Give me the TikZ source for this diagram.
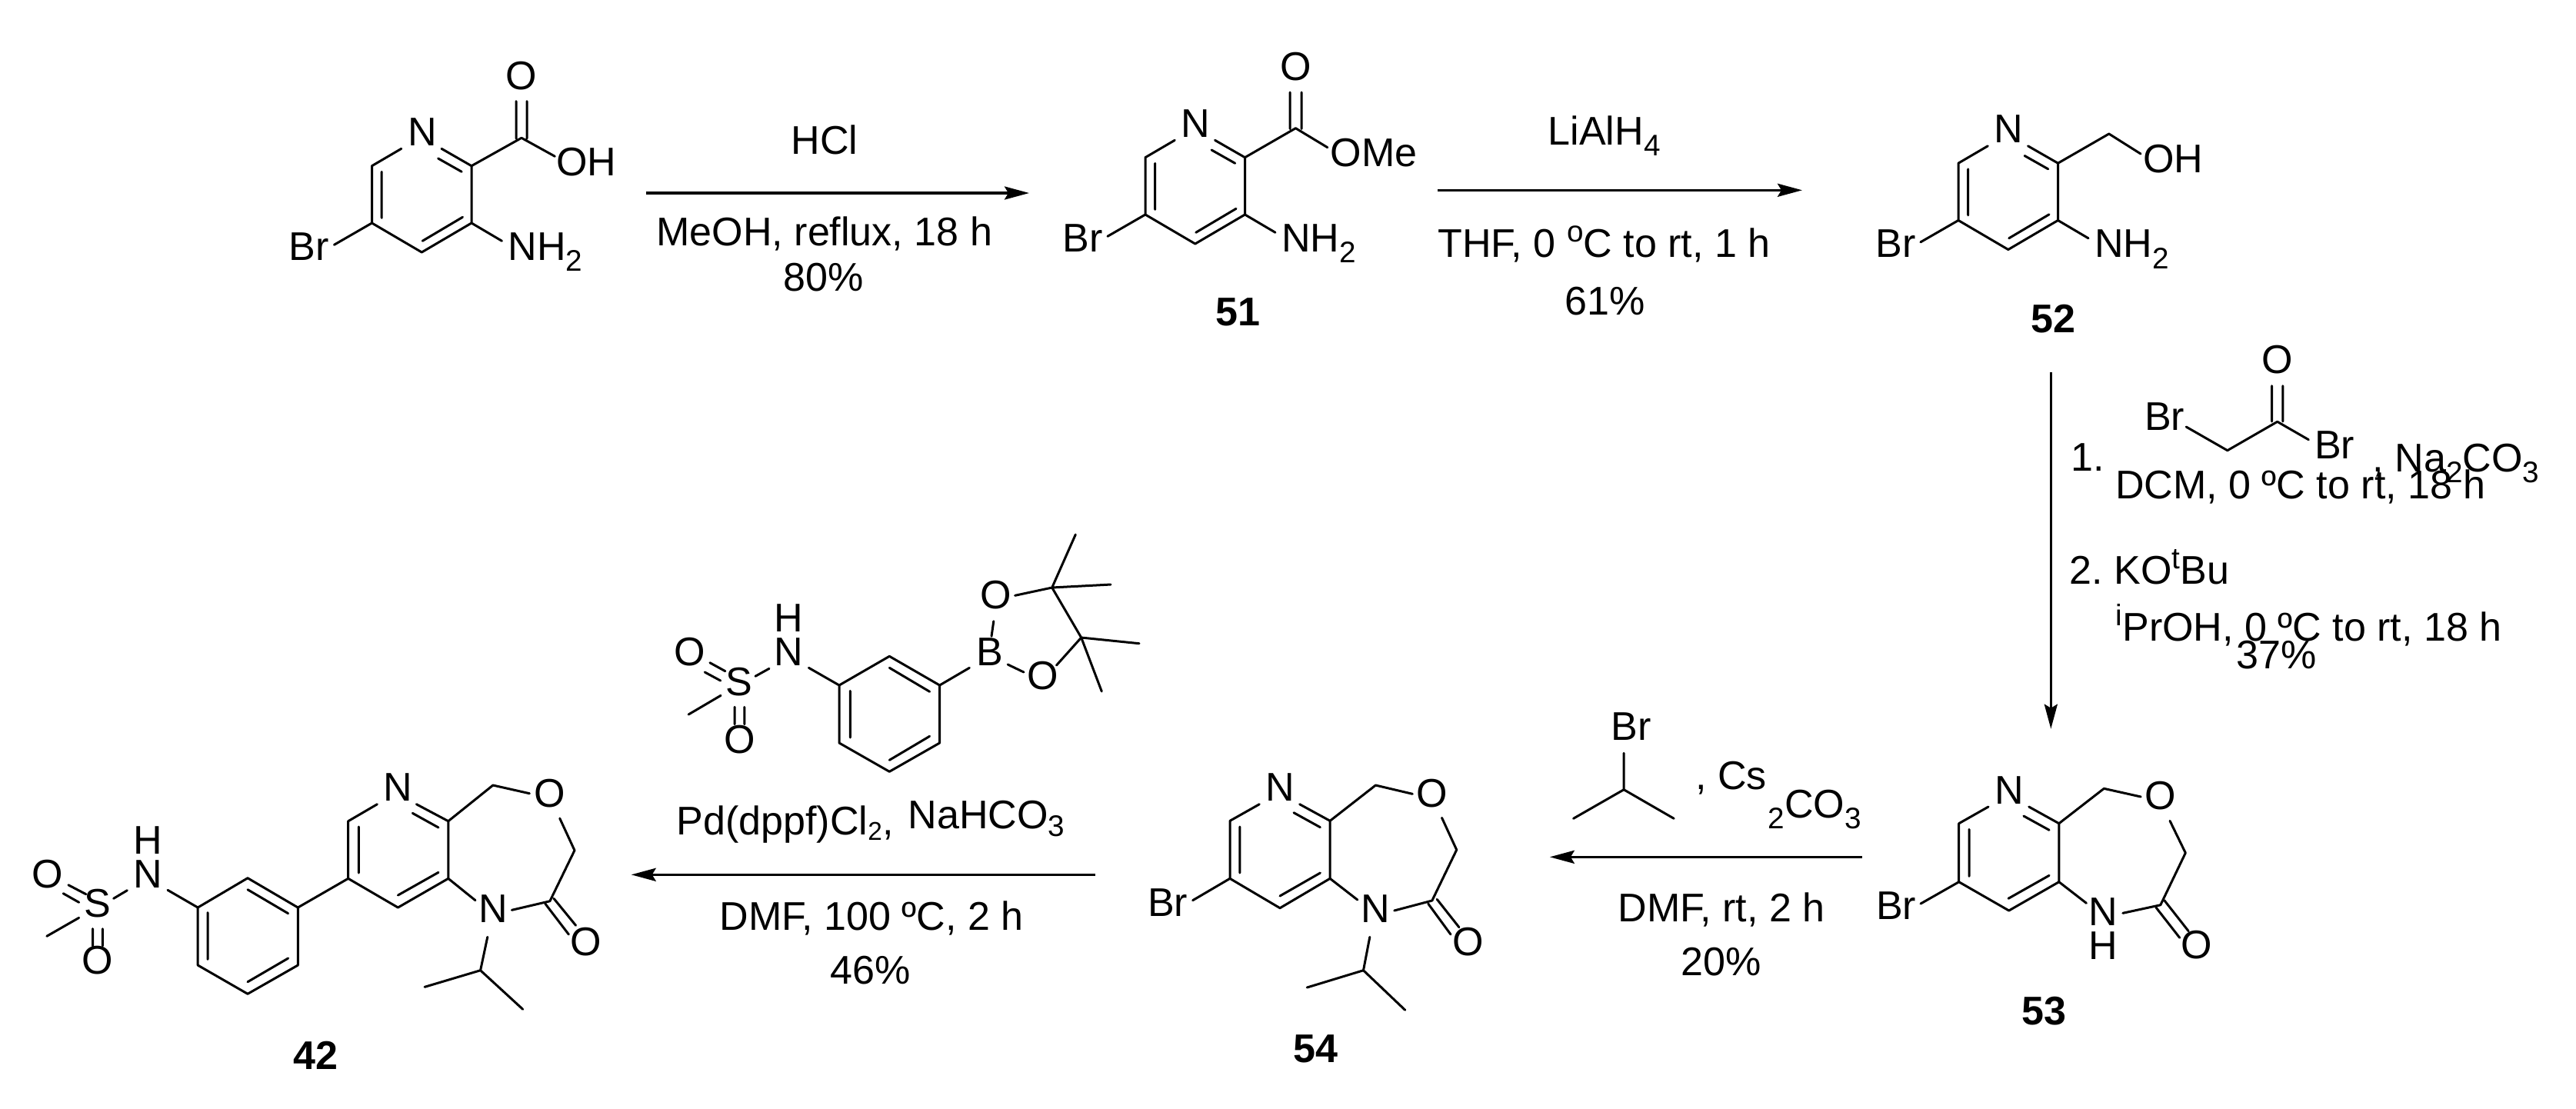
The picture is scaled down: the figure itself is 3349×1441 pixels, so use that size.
\documentclass[tikz,border=0pt]{standalone}
\usepackage{fontspec}
\setmainfont{Liberation Sans}
\usetikzlibrary{arrows.meta}
\newcommand{\dn}[1]{\raisebox{-0.145cm}{\fontsize{11}{11}\selectfont #1}}
\newcommand{\upp}[1]{\raisebox{0.2cm}{\fontsize{11}{11}\selectfont #1}}
\newcommand{\cc}[3]{\coordinate (#1) at (#2,#3);}
\newcommand{\pyr}{%
  \cc{c6}{483.5}{215.7}\cc{c5}{483.5}{290}\cc{c4}{548.3}{328}\cc{c3}{613}{290}\cc{c2}{613}{215.7}
  \cc{na}{521.8}{193.3}\cc{nb}{574}{193.3}
  \cc{i1}{496.2}{223.3}\cc{i2}{496.2}{283.3}\cc{i3}{601.5}{282.3}\cc{i4}{549.2}{313.3}\cc{i5}{600.2}{223.3}\cc{i6}{569.6}{206}
  \cc{bra}{434.4}{318.3}\cc{nha}{652.5}{313.3}
  \draw[bond] (na)--(c6)--(c5)--(c4)--(c3)--(c2)--(nb) (i1)--(i2) (i3)--(i4) (i5)--(i6) (c5)--(bra) (c3)--(nha);
  \node[atom] (pN) at (549,189.3) {N};
  \node[atom] (pBr) at (402,338) {Br};
  \node[atom,anchor=base west] (pNH) at (660,338) {NH\dn{2}};
}
\tikzset{
  x=0.01cm,y=-0.01cm,
  bond/.style={line width=0.03cm,line cap=round,line join=round},
  rxn/.style={line width=0.034cm,-{Stealth[length=0.32cm,width=0.17cm,inset=0.05cm]}},
  atom/.style={inner sep=0pt,anchor=base,font=\fontsize{14.8}{18}\selectfont},
  cmpd/.style={atom,font=\fontsize{14.8}{18}\selectfont\bfseries},
}
\begin{document}
\begin{tikzpicture}
\useasboundingbox (0,0) rectangle (3349,1441);
% starting acid
\begin{scope}
  \pyr
  \cc{cc}{678}{179.3}\cc{oa}{721.4}{203.3}\cc{d1}{671}{180}\cc{d2}{671}{131.7}\cc{d3}{685}{180}\cc{d4}{685}{131.7}
  \draw[bond] (c2)--(cc)--(oa) (d1)--(d2) (d3)--(d4);
  \node[atom] (aO) at (678,116) {O};
  \node[atom] (aOH) at (762.5,228) {OH};
\end{scope}
% reaction 1
\cc{r1a}{840.3}{251}\cc{r1b}{1338}{251}
\draw[rxn] (r1a)--(r1b);
\node[atom] (r1t) at (1072,200.7) {HCl};
\node[atom] (r1m) at (1071.8,319.3) {MeOH, reflux, 18 h};
\node[atom] (r1y) at (1071,378) {80\%};
% 51
\begin{scope}[shift={(1005.5,-11)}]
  \pyr
\end{scope}
\cc{bcc}{1684.4}{166.7}\cc{boa}{1725.8}{191.7}\cc{bd1}{1677}{167.5}\cc{bd2}{1677}{120}\cc{bd3}{1692}{167.5}\cc{bd4}{1692}{120}
\draw[bond] (c2)--(bcc)--(boa) (bd1)--(bd2) (bd3)--(bd4);
\node[atom] (bO) at (1684.4,104) {O};
\node[atom] (bOMe) at (1786,216) {OMe};
\node[cmpd] (l51) at (1609.5,423) {51};
% reaction 2
\cc{r2a}{1869.3}{247.3}\cc{r2b}{2343}{247.3}
\draw[rxn] (r2a)--(r2b);
\node[atom,anchor=base west] (r2t) at (2012,188) {LiAlH\dn{4}};
\node[atom] (r2m) at (2085.5,334.3) {THF, 0 \upp{o}C to rt, 1 h};
\node[atom] (r2y) at (2087,409) {61\%};
% 52
\begin{scope}[shift={(2062.5,-3.5)}]
  \pyr
\end{scope}
\cc{ccc}{2741.8}{174}\cc{coa}{2783}{200}
\draw[bond] (c2)--(ccc)--(coa);
\node[atom] (cOH) at (2825,224.3) {OH};
\node[cmpd] (l52) at (2669.4,432.7) {52};
% reaction 3
\cc{r3a}{2666.3}{484.3}\cc{r3b}{2666.3}{947.7}
\draw[rxn] (r3a)--(r3b);
\cc{e1}{2842.2}{555}\cc{e2}{2895.8}{585.7}\cc{e3}{2960.7}{548.3}\cc{e4}{3001.3}{571.7}
\cc{e5}{2953.6}{548}\cc{e6}{2953.6}{501.7}\cc{e7}{2967.9}{548}\cc{e8}{2967.9}{501.7}
\draw[bond] (e1)--(e2)--(e3)--(e4) (e5)--(e6) (e7)--(e8);
\node[atom] (eBr1) at (2814,559.3) {Br};
\node[atom] (eBr2) at (3035,596.7) {Br};
\node[atom] (eO) at (2960.3,485.3) {O};
\node[atom,anchor=base west] (r3a1) at (2692,612.7) {1.};
\node[atom,anchor=base west] (r3a2) at (3084,613.3) {, Na\dn{2}CO\dn{3}};
\node[atom] (r3c1) at (2991,648.3) {DCM, 0 ºC to rt, 18 h};
\node[atom,anchor=base west] (r3a3) at (2690,759.5) {2.};
\node[atom,anchor=base west] (r3a4) at (2748,759.5) {KO\upp{t}Bu};
\node[atom,anchor=base west] (r3c2) at (2750,833.3) {\upp{i}PrOH, 0 ºC to rt, 18 h};
\node[atom] (r3y) at (2960,869.3) {37\%};
% 53
\cc{f6}{2546.7}{1070.7}\cc{f5}{2546.7}{1146.7}\cc{f4}{2611.7}{1184}\cc{f3}{2676.8}{1146.7}\cc{f2}{2676.8}{1070.7}
\cc{fna}{2585}{1049}\cc{fnb}{2637.7}{1049}\cc{fi1}{2630.9}{1061}\cc{fi2}{2664.1}{1079.3}
\cc{fi3}{2560}{1078.3}\cc{fi4}{2560}{1139.3}\cc{fi5}{2664.1}{1138.3}\cc{fi6}{2611}{1168.3}
\cc{fch}{2735.3}{1025.3}\cc{foa}{2783.2}{1036}\cc{fob}{2821}{1067.3}\cc{fcj}{2841.3}{1109}\cc{fco}{2808.8}{1176.7}
\cc{fnc}{2712.4}{1174.3}\cc{fnd}{2759.8}{1187.3}
\cc{fd1}{2813.8}{1170.7}\cc{fd2}{2845.2}{1210.7}\cc{fd3}{2803}{1180}\cc{fd4}{2833.7}{1219.3}\cc{fbr}{2497}{1175}
\draw[bond] (fna)--(f6)--(f5)--(f4)--(f3)--(f2)--(fnb) (fi1)--(fi2) (fi3)--(fi4) (fi5)--(fi6)
  (f2)--(fch)--(foa) (fob)--(fcj)--(fco)--(fnd) (f3)--(fnc) (fd1)--(fd2) (fd3)--(fd4) (f5)--(fbr);
\node[atom] (fN) at (2612,1045) {N};
\node[atom] (fO) at (2808.4,1052.7) {O};
\node[atom] (fNH) at (2734.6,1203) {N};
\node[atom] (fH) at (2734.6,1247.3) {H};
\node[atom] (fO2) at (2855.5,1246.7) {O};
\node[atom] (fBr) at (2465,1195) {Br};
\node[cmpd] (l53) at (2657,1332.6) {53};
% reaction 4
\cc{r4a}{2421}{1114.3}\cc{r4b}{2014.8}{1114.3}
\draw[rxn] (r4a)--(r4b);
\cc{g1}{2111.1}{979.3}\cc{g2}{2111.1}{1026.7}\cc{g3}{2045.5}{1064.3}\cc{g4}{2176.2}{1064.3}
\draw[bond] (g1)--(g2)--(g3) (g2)--(g4);
\node[atom] (gBr) at (2120.7,962.7) {Br};
\node[atom,anchor=base west] (r4r) at (2203.5,1026) {, Cs};
\node[atom,anchor=base west] (r4s) at (2298,1063.3) {\dn{2}CO\dn{3}};
\node[atom] (r4c) at (2238,1198) {DMF, rt, 2 h};
\node[atom] (r4y) at (2238,1268) {20\%};
% 54
\cc{h6}{1599}{1067.3}\cc{h5}{1599}{1142.3}\cc{h4}{1664}{1180.7}\cc{h3}{1729.1}{1142.3}\cc{h2}{1729.1}{1067.3}
\cc{hna}{1637.3}{1045.7}\cc{hnb}{1689.6}{1045.7}\cc{hi1}{1682}{1056.7}\cc{hi2}{1716.4}{1075.7}
\cc{hi3}{1611.8}{1075}\cc{hi4}{1611.8}{1135}\cc{hi5}{1716.4}{1135}\cc{hi6}{1664}{1165}
\cc{hch}{1788.4}{1021}\cc{hoa}{1836.3}{1032.3}\cc{hob}{1874.5}{1063.3}\cc{hcj}{1893.7}{1105}\cc{hco}{1861.8}{1171}
\cc{hnc}{1764.8}{1170}\cc{hnd}{1812.7}{1184}
\cc{hd1}{1868.2}{1169.3}\cc{hd2}{1896.9}{1205.7}\cc{hd3}{1856.7}{1175}\cc{hd4}{1886}{1215}
\cc{hp1}{1780.8}{1218.3}\cc{hp2}{1772.5}{1261.7}\cc{hp3}{1699.2}{1284}\cc{hp4}{1826.7}{1313.3}\cc{hbr}{1550.6}{1170.7}
\draw[bond] (hna)--(h6)--(h5)--(h4)--(h3)--(h2)--(hnb) (hi1)--(hi2) (hi3)--(hi4) (hi5)--(hi6)
  (h2)--(hch)--(hoa) (hob)--(hcj)--(hco)--(hnd) (h3)--(hnc) (hd1)--(hd2) (hd3)--(hd4) (h5)--(hbr)
  (hp1)--(hp2)--(hp3) (hp2)--(hp4);
\node[atom] (hN) at (1664,1041.7) {N};
\node[atom] (hO) at (1861.8,1049) {O};
\node[atom] (hNR) at (1788.4,1199.3) {N};
\node[atom] (hO2) at (1908.3,1242) {O};
\node[atom] (hBr) at (1518,1191) {Br};
\node[cmpd] (l54) at (1710,1381) {54};
% reaction 5
\cc{r5a}{1423.7}{1137.3}\cc{r5b}{820.7}{1137.3}
\draw[rxn] (r5a)--(r5b);
% boronate reagent
\cc{k1}{1091}{891}\cc{k2}{1156.3}{853.3}\cc{k3}{1221.6}{891}\cc{k4}{1221.6}{966}\cc{k5}{1156.3}{1003.3}\cc{k6}{1091}{966}
\cc{ki1}{1156.3}{868.3}\cc{ki2}{1208.6}{899.3}\cc{ki3}{1105.3}{898.3}\cc{ki4}{1105.3}{959}\cc{ki5}{1156.3}{988.3}\cc{ki6}{1208.6}{957.3}
\cc{kn}{1051.4}{868.3}\cc{kb}{1260.4}{868.3}\cc{kba}{1289}{827.3}\cc{kbb}{1291.8}{807.7}
\cc{koa}{1319.6}{774.3}\cc{kc1}{1367.7}{764}\cc{kbc}{1310.2}{864}\cc{kbd}{1331}{874}
\cc{kob}{1373.5}{865}\cc{kc2}{1405.7}{829}\cc{km1}{1398.3}{695}\cc{km2}{1444}{760}\cc{km3}{1481}{836.7}\cc{km4}{1432.3}{899}
\cc{ks1}{922.9}{861.7}\cc{ks2}{942.9}{872.7}\cc{ks3}{916.3}{874}\cc{ks4}{936.7}{885}
\cc{ks5}{937.1}{904.3}\cc{ks6}{895.1}{929}\cc{ks7}{955.1}{919.3}\cc{ks8}{955.1}{941.7}\cc{ks9}{967.8}{919.3}\cc{ks10}{967.8}{941.7}
\cc{ks11}{982}{879.3}\cc{ks12}{1000}{869.3}
\draw[bond] (k1)--(k2)--(k3)--(k4)--(k5)--(k6)--(k1) (ki1)--(ki2) (ki3)--(ki4) (ki5)--(ki6)
  (kn)--(k1) (k3)--(kb) (kba)--(kbb) (koa)--(kc1)--(kc2)--(kob) (kbc)--(kbd)
  (kc1)--(km1) (kc1)--(km2) (kc2)--(km3) (kc2)--(km4)
  (ks1)--(ks2) (ks3)--(ks4) (ks5)--(ks6) (ks7)--(ks8) (ks9)--(ks10) (ks11)--(ks12);
\node[atom] (kO1) at (896.3,865) {O};
\node[atom] (kN) at (1025.7,865) {N};
\node[atom] (kH) at (1025.7,821.7) {H};
\node[atom] (kS) at (961.2,904) {S};
\node[atom] (kO2) at (961.6,979) {O};
\node[atom] (kB) at (1287,865) {B};
\node[atom] (kO3) at (1294.3,791.7) {O};
\node[atom] (kO4) at (1355.5,896) {O};
\node[atom,anchor=base west] (r5r) at (879,1085) {Pd(dppf)Cl\raisebox{-0.07cm}{\fontsize{9.5}{9.5}\selectfont 2},};
\node[atom,anchor=base west] (r5s) at (1180,1077.3) {NaHCO\raisebox{-0.1cm}{\fontsize{11}{11}\selectfont 3}};
\node[atom] (r5c) at (1133,1209.3) {DMF, 100 ºC, 2 h};
\node[atom] (r5y) at (1132,1279.3) {46\%};
% 42
\cc{m6}{452.7}{1067.7}\cc{m5}{452.7}{1142.3}\cc{m4}{517.4}{1180}\cc{m3}{582.8}{1142.3}\cc{m2}{582.8}{1067.7}
\cc{mna}{490.4}{1045.7}\cc{mnb}{541.4}{1045.7}\cc{mi1}{536.3}{1057.3}\cc{mi2}{570}{1076}
\cc{mi3}{466.4}{1075}\cc{mi4}{466.4}{1135}\cc{mi5}{570}{1134.3}\cc{mi6}{517.4}{1164}
\cc{mch}{640.9}{1021}\cc{moa}{688.4}{1031.7}\cc{mob}{727.7}{1064}\cc{mcj}{747}{1105.7}\cc{mco}{714.9}{1171.7}
\cc{mnc}{618}{1170.7}\cc{mnd}{665.4}{1183.3}
\cc{md1}{720}{1168.3}\cc{md2}{748.6}{1203.3}\cc{md3}{708.8}{1175}\cc{md4}{739.4}{1215}
\cc{mp1}{633.8}{1218.3}\cc{mp2}{624.6}{1261.7}\cc{mp3}{552.1}{1283.3}\cc{mp4}{679.7}{1312.3}
\cc{q1}{387.3}{1180}\cc{q2}{322}{1141.7}\cc{q3}{257.2}{1180}\cc{q4}{257.2}{1255}\cc{q5}{322}{1292.3}\cc{q6}{387.3}{1255}
\cc{qi1}{322}{1156.7}\cc{qi2}{374.6}{1187.7}\cc{qi3}{270}{1186.7}\cc{qi4}{270}{1247.3}\cc{qi5}{322}{1276.7}\cc{qi6}{374.6}{1246}
\cc{qn}{218}{1157.3}\cc{qs1}{147.6}{1168.3}\cc{qs2}{165.4}{1157.7}
\cc{qo1}{88.9}{1150.7}\cc{qo2}{111.8}{1162.7}\cc{qo3}{82.2}{1161.7}\cc{qo4}{102.7}{1173.3}
\cc{qm1}{102.7}{1193.3}\cc{qm2}{60.8}{1217.3}
\cc{qo5}{120.5}{1207.7}\cc{qo6}{120.5}{1230}\cc{qo7}{133.3}{1207.7}\cc{qo8}{133.3}{1230}
\draw[bond] (mna)--(m6)--(m5)--(m4)--(m3)--(m2)--(mnb) (mi1)--(mi2) (mi3)--(mi4) (mi5)--(mi6)
  (m2)--(mch)--(moa) (mob)--(mcj)--(mco)--(mnd) (m3)--(mnc) (md1)--(md2) (md3)--(md4)
  (mp1)--(mp2)--(mp3) (mp2)--(mp4) (m5)--(q1)
  (q1)--(q2)--(q3)--(q4)--(q5)--(q6)--(q1) (qi1)--(qi2) (qi3)--(qi4) (qi5)--(qi6)
  (qn)--(q3) (qs1)--(qs2) (qo1)--(qo2) (qo3)--(qo4) (qm1)--(qm2) (qo5)--(qo6) (qo7)--(qo8);
\node[atom] (mN) at (517,1041.7) {N};
\node[atom] (mO) at (714.9,1049) {O};
\node[atom] (mNR) at (640.9,1199) {N};
\node[atom] (mO2) at (761.8,1242) {O};
\node[atom] (qN) at (192,1154) {N};
\node[atom] (qH) at (192,1110.7) {H};
\node[atom] (qS) at (126.6,1192) {S};
\node[atom] (qO1) at (61.3,1154) {O};
\node[atom] (qO2) at (126.6,1266) {O};
\node[cmpd] (l42) at (410.8,1390) {42};
\end{tikzpicture}
\end{document}
